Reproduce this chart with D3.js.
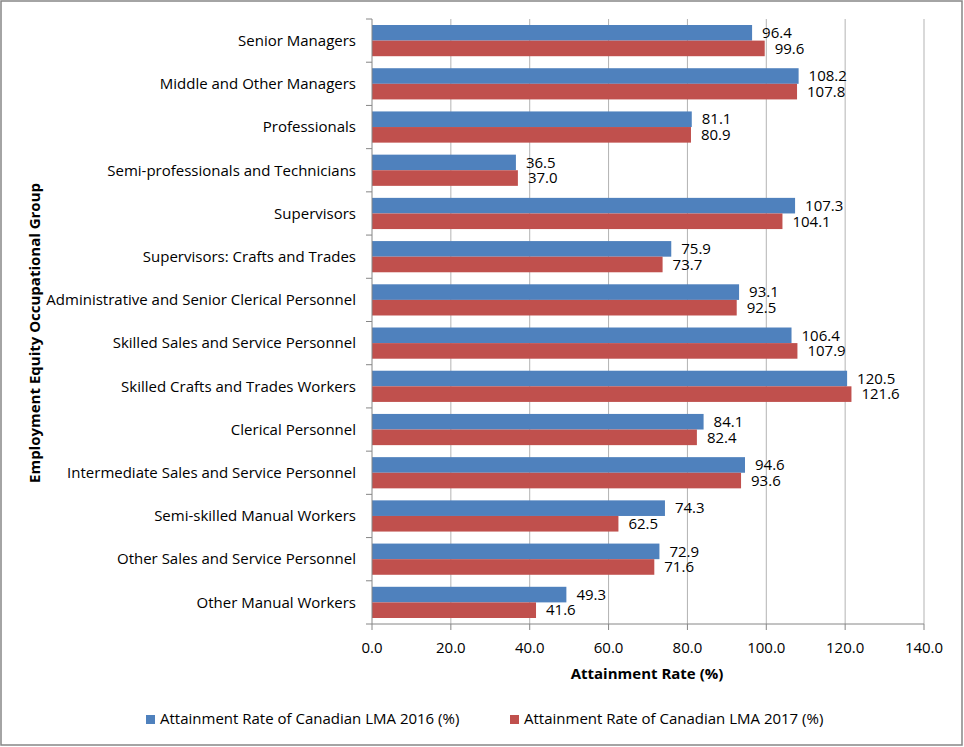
<!DOCTYPE html>
<html>
<head>
<meta charset="utf-8">
<script src="https://cdn.jsdelivr.net/npm/d3@7"></script>
<style>
	body { margin: 0; background: #fff; }
	svg { display: block; font-family: "Open Sans", "Noto Sans", sans-serif; }
</style>
</head>
<body>
<div id="wrapper"></div>
<script>
const categories = [
	"Senior Managers",
	"Middle and Other Managers",
	"Professionals",
	"Semi-professionals and Technicians",
	"Supervisors",
	"Supervisors: Crafts and Trades",
	"Administrative and Senior Clerical Personnel",
	"Skilled Sales and Service Personnel",
	"Skilled Crafts and Trades Workers",
	"Clerical Personnel",
	"Intermediate Sales and Service Personnel",
	"Semi-skilled Manual Workers",
	"Other Sales and Service Personnel",
	"Other Manual Workers",
];
const rate2016 = [96.4, 108.2, 81.1, 36.5, 107.3, 75.9, 93.1, 106.4, 120.5, 84.1, 94.6, 74.3, 72.9, 49.3];
const rate2017 = [99.6, 107.8, 80.9, 37.0, 104.1, 73.7, 92.5, 107.9, 121.6, 82.4, 93.6, 62.5, 71.6, 41.6];
const seriesNames = [
	"Attainment Rate of Canadian LMA 2016 (%)",
	"Attainment Rate of Canadian LMA 2017 (%)",
];
const xTicks = [0, 20, 40, 60, 80, 100, 120, 140];

const colors = ["#4F81BD", "#C0504D"];
const width = 964;
const height = 747;
const fontSize = 15;
const margins = { top: 19, left: 372, right: 40, bottom: 123 };
const boundedWidth = 924 - margins.left;
const boundedHeight = 624 - margins.top;

const svg = d3
	.select("#wrapper")
	.append("svg")
	.attr("width", width)
	.attr("height", height);

// Outer frame
svg
	.append("rect")
	.attr("x", 1)
	.attr("y", 1)
	.attr("width", width - 3)
	.attr("height", height - 3)
	.attr("fill", "#fff")
	.attr("stroke", "#868686")
	.attr("stroke-width", 1.5);

const bounds = svg
	.append("g")
	.attr("transform", `translate(${margins.left}, ${margins.top})`);

const xScale = d3.scaleLinear().domain([0, 140]).range([0, boundedWidth]);
const yScale = d3
	.scaleBand()
	.domain(categories)
	.range([0, boundedHeight])
	.paddingInner(0)
	.paddingOuter(0);
const barH = 15.6;
const groupOffset = (yScale.bandwidth() - barH * 2) / 2;

// Gridlines
bounds
	.selectAll(".grid")
	.data(xTicks.slice(1))
	.enter()
	.append("line")
	.attr("x1", (d) => xScale(d))
	.attr("x2", (d) => xScale(d))
	.attr("y1", 0)
	.attr("y2", boundedHeight)
	.attr("stroke", "#b3b3b3")
	.attr("stroke-width", 1);

// Bars
const series = [rate2016, rate2017];
series.forEach((values, si) => {
	bounds
		.selectAll(`.bar-${si}`)
		.data(categories)
		.enter()
		.append("rect")
		.attr("class", `bar-${si}`)
		.attr("x", xScale(0))
		.attr("y", (d) => yScale(d) + groupOffset + si * barH)
		.attr("width", (d, i) => xScale(values[i]) - xScale(0))
		.attr("height", barH)
		.attr("fill", colors[si]);

	bounds
		.selectAll(`.label-${si}`)
		.data(categories)
		.enter()
		.append("text")
		.attr("class", `label-${si}`)
		.attr("x", (d, i) => xScale(values[i]) + 10)
		.attr("y", (d) => yScale(d) + groupOffset + si * barH + barH / 2)
		.attr("dy", "0.35em")
		.attr("font-size", fontSize)
		.attr("fill", "#000")
		.text((d, i) => values[i].toFixed(1));
});

// Axes
const yAxis = bounds.append("g");
yAxis
	.append("line")
	.attr("x1", 0)
	.attr("x2", 0)
	.attr("y1", 0)
	.attr("y2", boundedHeight)
	.attr("stroke", "#868686");
yAxis
	.selectAll(".ytick")
	.data(d3.range(categories.length + 1))
	.enter()
	.append("line")
	.attr("x1", -6)
	.attr("x2", 0)
	.attr("y1", (i) => i * yScale.step())
	.attr("y2", (i) => i * yScale.step())
	.attr("stroke", "#868686");
yAxis
	.selectAll(".ylabel")
	.data(categories)
	.enter()
	.append("text")
	.attr("x", -16)
	.attr("y", (d) => yScale(d) + yScale.bandwidth() / 2)
	.attr("dy", "0.35em")
	.attr("text-anchor", "end")
	.attr("font-size", fontSize)
	.attr("fill", "#000")
	.text((d) => d);

const xAxis = bounds.append("g").attr("transform", `translate(0, ${boundedHeight})`);
xAxis
	.append("line")
	.attr("x1", 0)
	.attr("x2", boundedWidth)
	.attr("stroke", "#868686");
xAxis
	.selectAll(".xtick")
	.data(xTicks)
	.enter()
	.append("line")
	.attr("x1", (d) => xScale(d))
	.attr("x2", (d) => xScale(d))
	.attr("y1", 0)
	.attr("y2", 6)
	.attr("stroke", "#868686");
xAxis
	.selectAll(".xlabel")
	.data(xTicks)
	.enter()
	.append("text")
	.attr("x", (d) => xScale(d))
	.attr("y", 24)
	.attr("dy", "0.35em")
	.attr("text-anchor", "middle")
	.attr("font-size", fontSize)
	.attr("fill", "#000")
	.text((d) => d.toFixed(1));

// Axis titles
svg
	.append("text")
	.attr("x", 647)
	.attr("y", 674)
	.attr("dy", "0.35em")
	.attr("text-anchor", "middle")
	.attr("font-size", fontSize)
	.attr("font-weight", "bold")
	.text("Attainment Rate (%)");
svg
	.append("text")
	.attr("transform", "translate(35, 333) rotate(-90)")
	.attr("dy", "0.35em")
	.attr("text-anchor", "middle")
	.attr("font-size", fontSize)
	.attr("font-weight", "bold")
	.text("Employment Equity Occupational Group");

// Legend
const legendX = [146, 510];
seriesNames.forEach((name, i) => {
	const g = svg.append("g").attr("transform", `translate(${legendX[i]}, 719)`);
	g.append("rect")
		.attr("x", 0)
		.attr("y", -4)
		.attr("width", 9)
		.attr("height", 9)
		.attr("fill", colors[i]);
	g.append("text")
		.attr("x", 14)
		.attr("y", 0)
		.attr("dy", "0.35em")
		.attr("font-size", fontSize)
		.text(name);
});
</script>
</body>
</html>
